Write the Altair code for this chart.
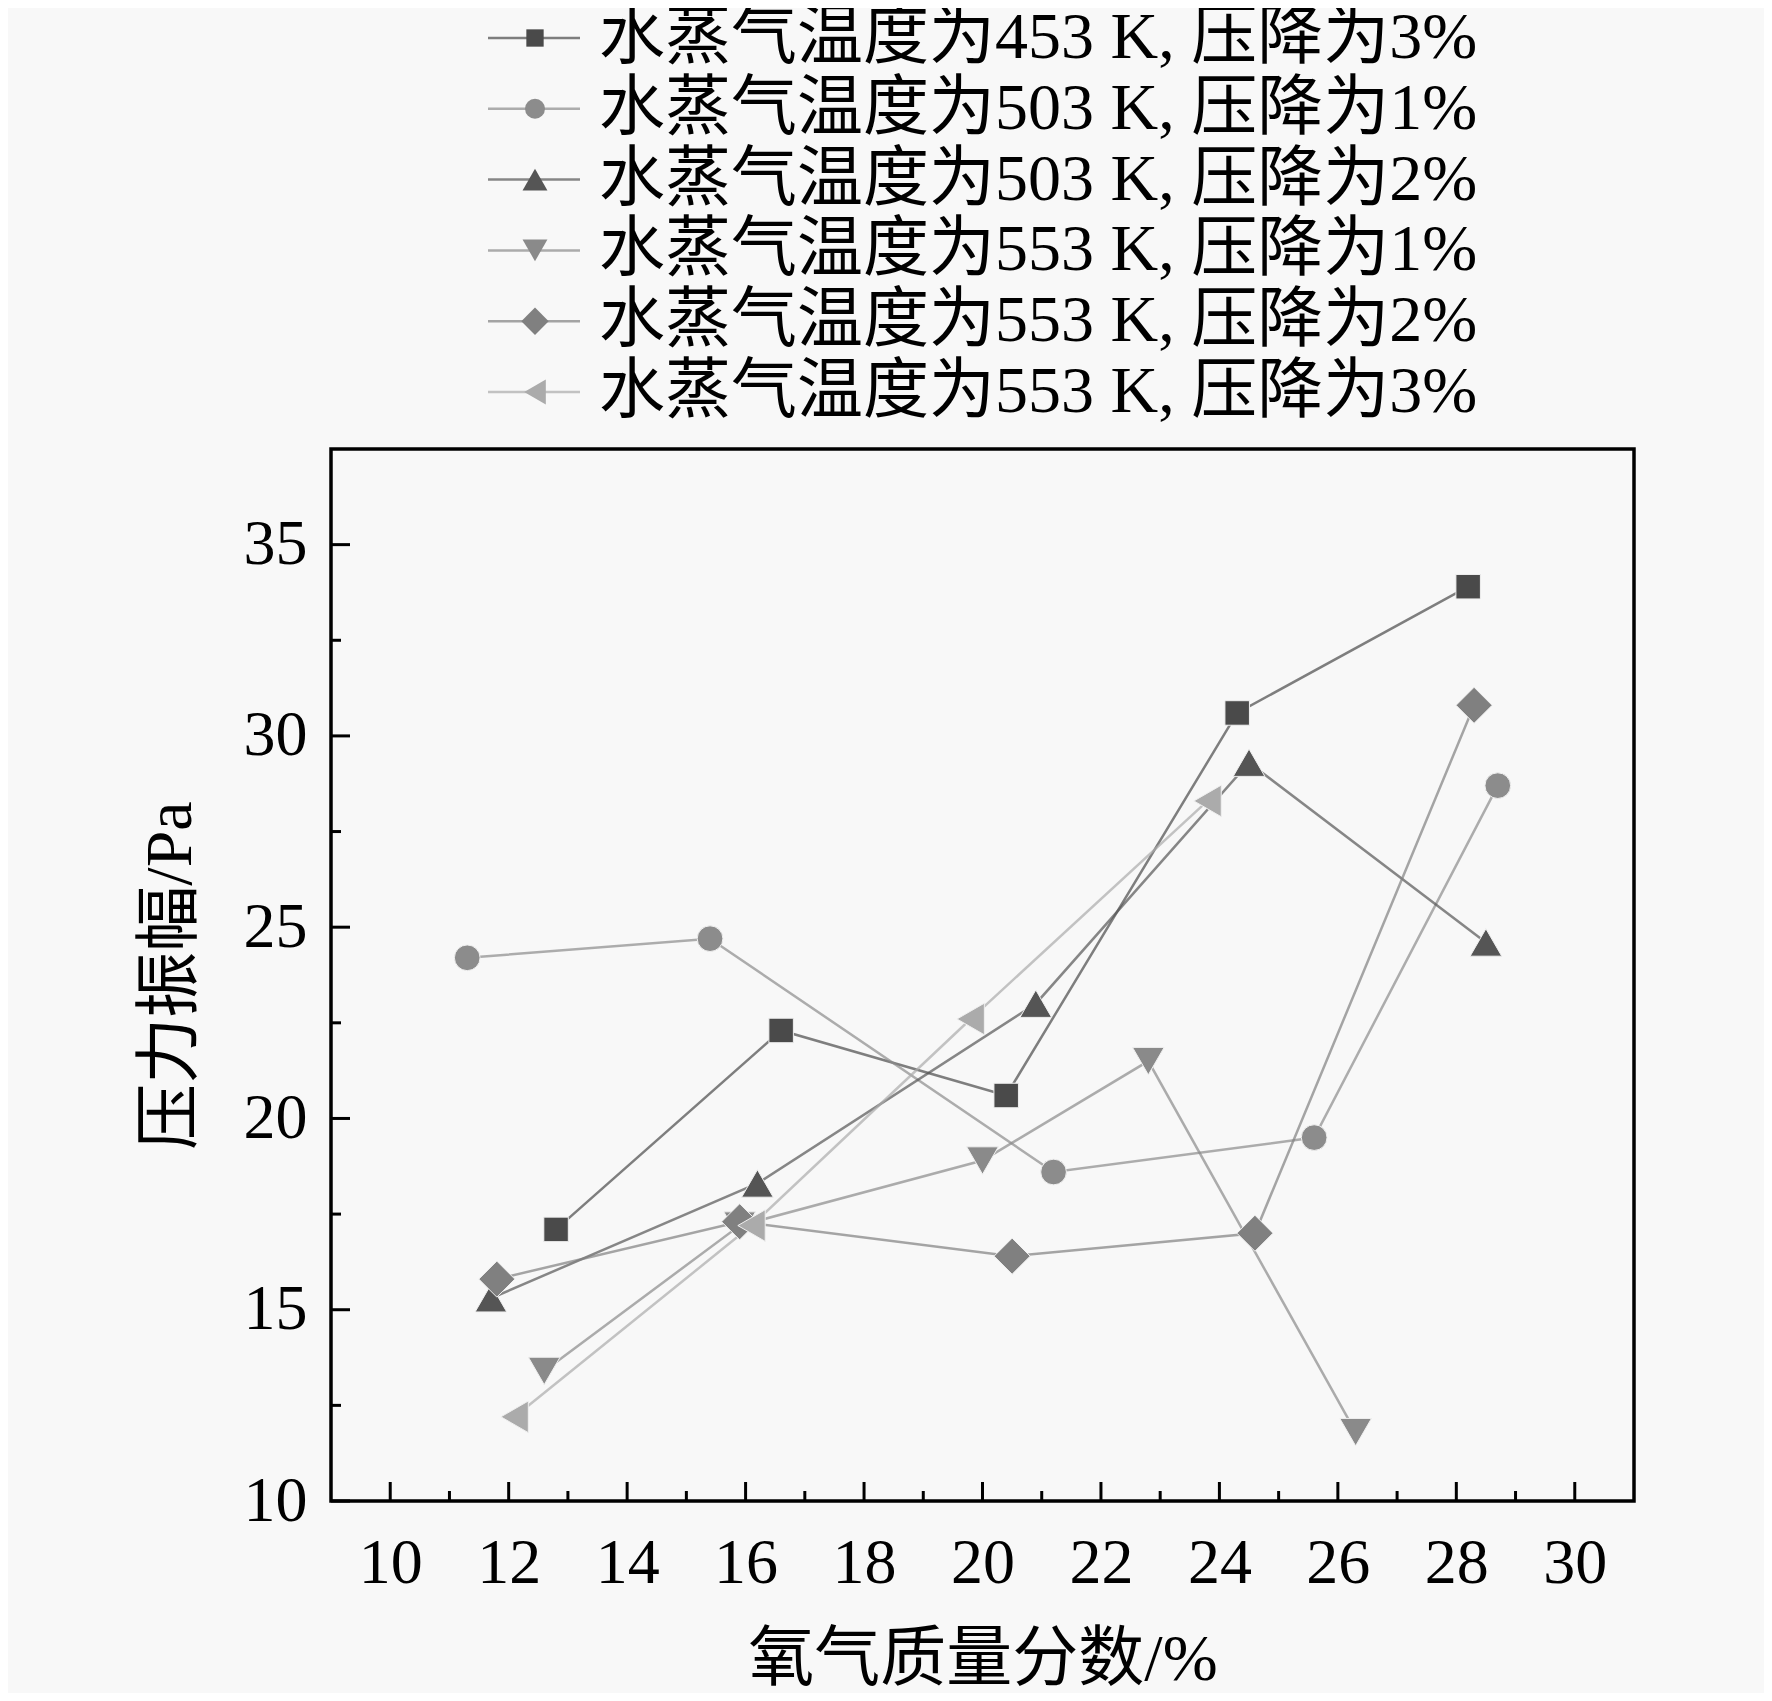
import altair as alt
import pandas as pd

# ---- data ----
series_names = [
    "水蒸气温度为453 K, 压降为3%",
    "水蒸气温度为503 K, 压降为1%",
    "水蒸气温度为503 K, 压降为2%",
    "水蒸气温度为553 K, 压降为1%",
    "水蒸气温度为553 K, 压降为2%",
    "水蒸气温度为553 K, 压降为3%",
]
s1_x = [12.8, 16.6, 20.4, 24.3, 28.2]
s1_y = [17.1, 22.3, 20.6, 30.6, 33.9]
s2_x = [11.3, 15.4, 21.2, 25.6, 28.7]
s2_y = [24.2, 24.7, 18.6, 19.5, 28.7]
s3_x = [11.7, 16.2, 20.9, 24.5, 28.5]
s3_y = [15.3, 18.3, 23.0, 29.3, 24.6]
s4_x = [12.6, 15.9, 20.0, 22.8, 26.3]
s4_y = [13.4, 17.2, 18.9, 21.5, 11.8]
s5_x = [11.8, 15.9, 20.5, 24.6, 28.3]
s5_y = [15.8, 17.3, 16.4, 17.0, 30.8]
s6_x = [12.1, 16.1, 19.8, 23.8]
s6_y = [12.2, 17.2, 22.6, 28.3]

x_major = [10, 12, 14, 16, 18, 20, 22, 24, 26, 28, 30]
x_minor = [11, 13, 15, 17, 19, 21, 23, 25, 27, 29]
y_major = [10, 15, 20, 25, 30, 35]
y_minor = [12.5, 17.5, 22.5, 27.5, 32.5]

colors = ["#4a4a4a", "#8c8c8c", "#555555", "#8a8a8a", "#808080", "#ababab"]
shapes = ["square", "circle", "triangle-up", "triangle-down", "diamond", "triangle-left"]
sizes = [600, 660, 1000, 1000, 1300, 1000]
legend_sizes = [300, 400, 620, 620, 750, 620]

FONT = "Liberation Serif, Noto Sans CJK SC"
W, H = 1303, 1052

rows = []
for name, xs, ys in zip(series_names, [s1_x, s2_x, s3_x, s4_x, s5_x, s6_x],
                        [s1_y, s2_y, s3_y, s4_y, s5_y, s6_y]):
    for xv, yv in zip(xs, ys):
        rows.append({"series": name, "x": xv, "y": yv})
df = pd.DataFrame(rows)

xs_scale = alt.Scale(domain=[9, 31], nice=False, zero=False)
ys_scale = alt.Scale(domain=[10, 37.5], nice=False, zero=False)

X = alt.X("x:Q", scale=xs_scale,
          axis=alt.Axis(values=x_major, format="d", title="氧气质量分数/%",
                        labelPadding=30, titleBaseline="middle", titleY=158))
Y = alt.Y("y:Q", scale=ys_scale,
          axis=alt.Axis(values=y_major, format="d", title="压力振幅/Pa",
                        labelPadding=24, titleBaseline="middle", titleX=-161))

color_enc = alt.Color("series:N", scale=alt.Scale(domain=series_names, range=colors), legend=None)
shape_enc = alt.Shape("series:N", scale=alt.Scale(domain=series_names, range=shapes), legend=None)
size_enc = alt.Size("series:N", scale=alt.Scale(type="ordinal", domain=series_names, range=sizes),
                    legend=None)
leg_size_enc = alt.Size("series:N",
                        scale=alt.Scale(type="ordinal", domain=series_names, range=legend_sizes),
                        legend=None)

lines = alt.Chart(df).mark_line(strokeWidth=2.5, opacity=0.7).encode(
    x=X, y=Y, color=color_enc, detail="series:N")
points = alt.Chart(df).mark_point(filled=True, opacity=1, stroke="#f0f0f0", strokeWidth=1).encode(
    x=X, y=Y, color=color_enc, shape=shape_enc, size=size_enc)

xmaj = alt.Chart(pd.DataFrame({"x": x_major})).mark_rule(color="black", strokeWidth=3).encode(
    x=X, y=alt.value(H), y2=alt.value(H - 19))
xmin = alt.Chart(pd.DataFrame({"x": x_minor})).mark_rule(color="black", strokeWidth=3).encode(
    x=X, y=alt.value(H), y2=alt.value(H - 10))
ymaj = alt.Chart(pd.DataFrame({"y": y_major})).mark_rule(color="black", strokeWidth=3).encode(
    y=Y, x=alt.value(0), x2=alt.value(19))
ymin = alt.Chart(pd.DataFrame({"y": y_minor})).mark_rule(color="black", strokeWidth=3).encode(
    y=Y, x=alt.value(0), x2=alt.value(10))

main = alt.layer(lines, xmaj, xmin, ymaj, ymin, points)

# ---- manual legend above the plot ----
leg_df = pd.DataFrame({"series": series_names, "row": list(range(len(series_names)))})
LY = alt.Y("row:Q", scale=alt.Scale(domain=[0, 5], range=[-411, -57]), axis=None)
leg_line = alt.Chart(leg_df).mark_rule(strokeWidth=2.5, opacity=0.7).encode(
    y=LY, x=alt.value(157), x2=alt.value(249), color=color_enc)
leg_pt = alt.Chart(leg_df).mark_point(filled=True, opacity=1).encode(
    y=LY, x=alt.value(204), color=color_enc, shape=shape_enc, size=leg_size_enc)
leg_txt = alt.Chart(leg_df).mark_text(align="left", baseline="middle", font=FONT,
                                     fontSize=66, color="black").encode(
    y=LY, x=alt.value(268), text="series:N")
legend = alt.layer(leg_line, leg_pt, leg_txt)

chart = alt.layer(main, legend).resolve_scale(y="independent", size="independent").properties(
    width=W, height=H,
    autosize=alt.AutoSizeParams(type="none"),
    padding={"left": 323, "top": 441, "right": 130, "bottom": 192},
    background="#f8f8f8",
).configure_view(
    stroke="black", strokeWidth=3.5, fill="#f8f8f8"
).configure_axis(
    labelFont=FONT, labelFontSize=64, labelColor="black",
    titleFont=FONT, titleFontSize=66, titleColor="black", titleFontWeight="normal",
    ticks=False, tickSize=0, domain=False, grid=False,
)

chart.save("out.html", embed_options={"renderer": "svg", "actions": False})
